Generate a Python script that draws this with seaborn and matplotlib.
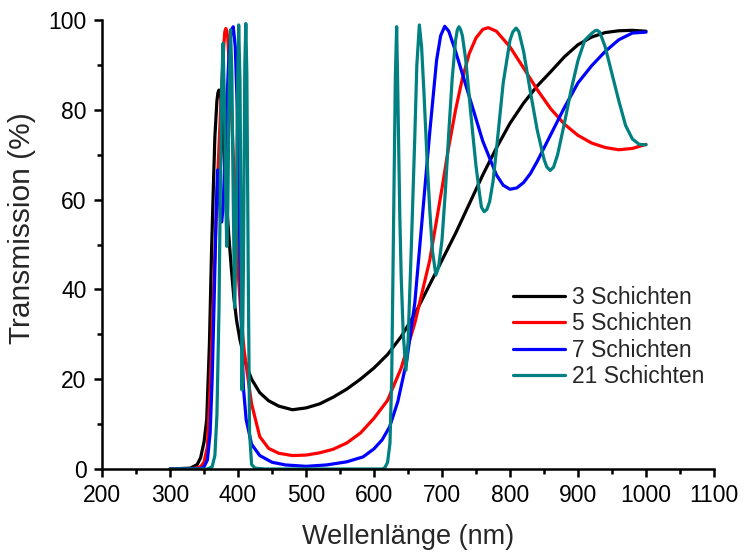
import matplotlib
matplotlib.use("Agg")
import matplotlib.pyplot as plt
import seaborn as sns
import pandas as pd
from matplotlib.ticker import MultipleLocator
from matplotlib.lines import Line2D

# ---------------- data ----------------
series_labels = ["3 Schichten", "5 Schichten", "7 Schichten", "21 Schichten"]
series_colors = ["#000000", "#FF0000", "#0000FF", "#008080"]

wl_3 = [300, 330, 340, 345, 350, 354, 358, 361, 364, 366, 369, 370.5, 372, 373.5, 375, 378, 382, 386, 390, 394,
        398, 403, 408, 413, 420, 432, 445, 460, 480, 500, 520, 540, 560, 580, 600, 620, 640, 660, 680, 700,
        720, 740, 760, 780, 800, 820, 840, 860, 880, 900, 920, 940, 960, 980, 1000]
T_3 = [0, 0.2, 1, 2.5, 6, 11, 28, 48, 64, 74, 82, 83.8, 84.4, 83.8, 82.3, 74, 62, 53, 45, 38,
       33, 28.7, 25.5, 22.8, 20, 17, 15.2, 14, 13.2, 13.6, 14.5, 16, 17.8, 20, 22.5, 25.5, 29.5, 34.5, 40.5, 46.5,
       52.5, 59, 65.5, 71.5, 77, 81.5, 85.3, 88.5, 91.8, 94.5, 96.2, 97.2, 97.6, 97.7, 97.5]

wl_5 = [300, 335, 345, 350, 355, 359, 363, 367, 371, 375, 379, 380.5, 382, 383.5, 385, 389, 393, 397, 401, 405,
        409, 413, 420, 432, 445, 460, 480, 500, 520, 540, 560, 580, 600, 620, 640, 660, 682, 700, 709, 720,
        730, 740, 750, 760, 768, 780, 800, 820, 840, 860, 880, 900, 920, 940, 960, 980, 1000]
T_5 = [0, 0.1, 0.5, 1.5, 5, 18, 35, 52, 68, 82, 94, 97.3, 98.1, 97.6, 96, 85, 70, 55, 42, 33,
       26.5, 22, 14.5, 7.2, 4.6, 3.5, 3.0, 3.1, 3.6, 4.4, 5.8, 8.0, 11.3, 15.3, 22.5, 32.5, 46.5, 62.5, 71, 80,
       87, 92.5, 96, 97.9, 98.3, 97.5, 94, 89.3, 84.5, 80.2, 76.8, 74.3, 72.6, 71.6, 71.1, 71.4, 72.3]

wl_7 = [300, 345, 350, 355, 359, 362, 365, 368, 370, 372, 374, 376, 378, 381, 384, 387, 390, 393, 396, 399,
        402, 405, 408, 412, 420, 432, 450, 470, 500, 530, 560, 584, 600, 612, 623, 635, 648, 660, 672, 682,
        692, 698, 704, 710, 720, 740, 760, 780, 790, 800, 810, 820, 830, 840, 860, 880, 900, 920, 940, 960,
        980, 1000]
T_7 = [0, 0.1, 0.5, 2, 8, 20, 38, 58, 66.6, 62, 56, 55, 58, 70, 83, 93, 97.7, 98.5, 94, 80,
       55, 32, 18, 11, 5.5, 3, 1.5, 0.9, 0.6, 0.9, 1.6, 2.7, 4.5, 6.5, 9.4, 15, 24, 37, 57.7, 75,
       91, 96.5, 98.6, 97.5, 93, 83, 73, 65.5, 63.2, 62.3, 62.6, 63.8, 65.8, 68.5, 74.5, 80.5, 86, 89.8, 93, 95.6,
       97.1, 97.3]

wl_21 = [300, 355, 362, 366, 369, 372, 374, 376, 378, 380, 382, 383.5, 385, 387, 389, 391, 393, 395, 397, 399,
         401, 403, 404.5, 406, 408, 410, 411.5, 413, 415, 417, 420, 425, 440, 600, 612, 616, 620, 623.5, 626, 628.4,
         631.4, 633.3, 635, 636.2, 638, 640, 643, 647, 650, 655, 660, 663, 666.7, 670, 673.5, 678, 682, 686, 691, 695,
         700, 705, 710, 715, 720, 722.5, 725, 727.5, 730, 735, 740, 745, 750, 755, 758, 762, 766, 770, 775, 780,
         790, 800, 804, 809, 813, 820, 830, 840, 850, 854, 859, 864, 870, 880, 890, 900, 910, 920, 925, 928,
         932, 940, 950, 960, 970, 980, 990, 1000]
T_21 = [0, 0, 0.5, 3, 12, 35, 62, 85, 94.8, 82, 60, 49.6, 58, 85, 97.8, 88, 60, 36, 48, 82,
        98.9, 86, 50, 17.6, 45, 90, 99.2, 88, 45, 8, 1, 0.2, 0, 0, 0, 0.3, 1.5, 5.8, 20, 50,
        87.4, 98.5, 84, 72.5, 56, 42.8, 30, 22, 28, 50, 74, 90, 98.9, 94, 83.7, 69, 57.7, 48.5, 43.2, 45,
        51, 62, 75, 87, 95.5, 97.8, 98.5, 97.8, 96.5, 91, 83, 75, 67.5, 61.5, 58.3, 57.3, 57.8, 59.5, 64, 71,
        86, 95.5, 97.3, 98.2, 97.4, 93, 84, 75.5, 69, 67.3, 66.5, 67.2, 70, 77, 84.5, 91, 95.5, 97.0, 97.6, 97.7,
        97.3, 94, 88, 82, 76.5, 73.5, 72.3, 72.2]

x_ticks = [200, 300, 400, 500, 600, 700, 800, 900, 1000, 1100]
y_ticks = [0, 20, 40, 60, 80, 100]
x_label = "Wellenlänge (nm)"
y_label = "Transmission (%)"

# ---------------- build long table ----------------
frames = []
for lab, w, t in zip(series_labels, [wl_3, wl_5, wl_7, wl_21], [T_3, T_5, T_7, T_21]):
    frames.append(pd.DataFrame({"wl": w, "T": t, "series": lab}))
df = pd.concat(frames, ignore_index=True)

# ---------------- style ----------------
sns.set_style("ticks")
plt.rcParams["font.family"] = ["Liberation Sans", "DejaVu Sans"]

fig = plt.figure(figsize=(7.46, 5.55), dpi=100)
ax = fig.add_axes([102 / 746, 1 - 469 / 555, 612 / 746, 449 / 555])

sns.lineplot(data=df, x="wl", y="T", hue="series", hue_order=series_labels,
             palette=series_colors, estimator=None, sort=False, linewidth=2.3,
             ax=ax, legend=False)
for ln in ax.get_lines():
    ln.set_solid_joinstyle("round")
    ln.set_solid_capstyle("round")

ax.set_xlim(x_ticks[0], x_ticks[-1])
ax.set_ylim(y_ticks[0], y_ticks[-1])
ax.set_xticks(x_ticks)
ax.set_yticks(y_ticks)
ax.xaxis.set_minor_locator(MultipleLocator(50))
ax.yaxis.set_minor_locator(MultipleLocator(10))

for s in ["top", "right"]:
    ax.spines[s].set_visible(False)
for s in ["left", "bottom"]:
    ax.spines[s].set_linewidth(1.8)
    ax.spines[s].set_color("black")

ax.tick_params(axis="both", which="major", direction="out", length=6, width=1.8,
               labelsize=16.5, pad=5, color="black", labelcolor="black")
ax.tick_params(axis="both", which="minor", direction="out", length=3.5, width=1.8, color="black")

ax.set_xlabel(x_label, fontsize=19.5, labelpad=12)
ax.set_ylabel(y_label, fontsize=21.5)
ax.yaxis.set_label_coords(-0.108, 0.537)

handles = [Line2D([0], [0], color=c, lw=2.3) for c in series_colors]
ax.legend(handles, series_labels, loc="upper left", bbox_to_anchor=(0.672, 0.408),
          frameon=False, fontsize=16.5, handlelength=2.27, handletextpad=0.3,
          labelspacing=0.15, borderaxespad=0, borderpad=0)

fig.savefig("out.png", dpi=100)
